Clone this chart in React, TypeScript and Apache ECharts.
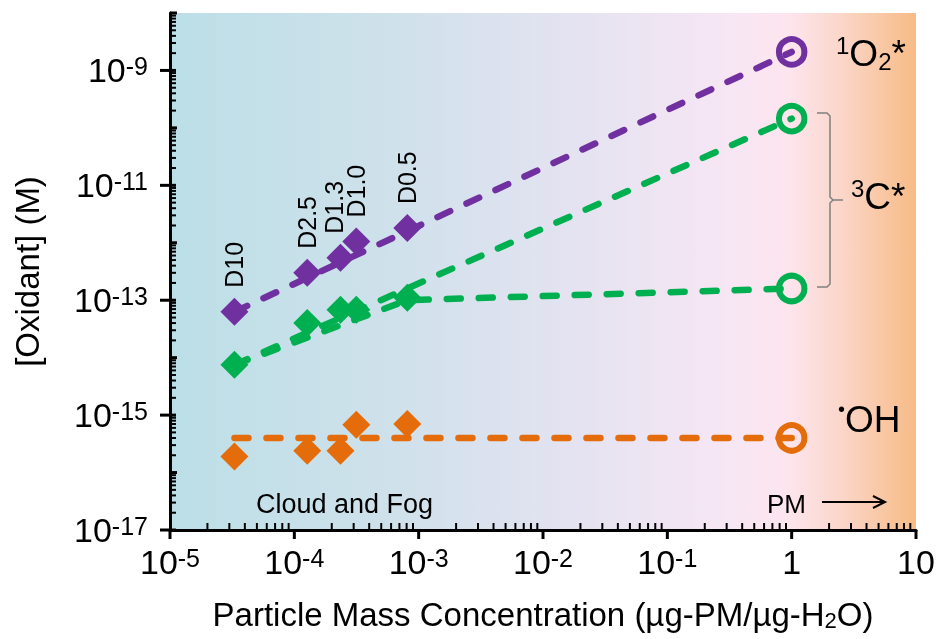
import React, { useEffect, useRef } from 'react';
import * as echarts from 'echarts';

// ---- data ----
const dLabels = ['D10', 'D2.5', 'D1.3', 'D1.0', 'D0.5'];
const dConc = [3.3e-5, 1.27e-4, 2.35e-4, 3.15e-4, 8.1e-4];
const o2Vals = [6.3e-14, 3.0e-13, 5.5e-13, 1.05e-12, 1.8e-12];
const c3Vals = [7.5e-15, 4.0e-14, 6.8e-14, 6.8e-14, 1.1e-13];
const ohVals = [1.9e-16, 2.4e-16, 2.4e-16, 6.8e-16, 7.0e-16];
const pmConc = 1;
const o2PM = 2.1e-9;
const c3PMHigh = 1.45e-10;
const c3PMLow = 1.6e-13;
const c3LowBend = 1.0e-13;
const ohPM = 4.0e-16;
const ohFit = 4.0e-16;
const xExps = [-5, -4, -3, -2, -1, 0, 1];
const yExps = [-17, -16, -15, -14, -13, -12, -11, -10, -9, -8];

const PURPLE = '#7030A0';
const GREEN = '#00B050';
const ORANGE = '#E46C0A';
const FONT = 'Liberation Sans, Arial, sans-serif';

const xMin = Math.pow(10, xExps[0]);
const xMax = Math.pow(10, xExps[xExps.length - 1]);
const yMin = Math.pow(10, yExps[0]);
const yMax = Math.pow(10, yExps[yExps.length - 1]);

const dashStyle = (color: string) => ({
  color,
  width: 6.5,
  type: [14, 18] as any,
  cap: 'round' as const,
  opacity: 1,
});

function expLabel(v: number, hideEven: boolean) {
  const n = Math.round(Math.log10(v));
  if (hideEven && n % 2 === 0) return '';
  if (n === 0) return '1';
  if (n === 1) return '10';
  return '{b|10}{s|' + n + '}';
}

const labelRich = {
  b: { fontSize: 34, fontFamily: FONT, color: '#000', verticalAlign: 'bottom' as const },
  s: { fontSize: 25, fontFamily: FONT, color: '#000', verticalAlign: 'top' as const },
};

function buildOption() {
  const endCircle = (color: string, y: number) => ({
    type: 'scatter',
    symbol: 'circle',
    symbolSize: 25.5,
    itemStyle: { color: 'rgba(0,0,0,0)', borderColor: color, borderWidth: 6, opacity: 1 },
    data: [[pmConc, y]],
    z: 4,
    silent: true,
  });
  const lineSeries = (color: string, data: number[][]) => ({
    type: 'line',
    data,
    showSymbol: false,
    symbol: 'none',
    lineStyle: dashStyle(color),
    z: 2,
    silent: true,
  });
  const diamonds = (color: string, vals: number[], withLabels: boolean) => ({
    type: 'scatter',
    symbol: 'diamond',
    symbolSize: 28,
    itemStyle: { color, opacity: 1 },
    data: vals.map((v, i) =>
      withLabels && i === 2
        ? { value: [dConc[i], v], label: { offset: [0, -6] } }
        : [dConc[i], v]
    ),
    z: 3,
    silent: true,
    label: withLabels
      ? {
          show: true,
          position: 'top',
          distance: 10,
          rotate: 90,
          align: 'left',
          verticalAlign: 'middle',
          fontSize: 25,
          fontFamily: FONT,
          color: '#000',
          formatter: (p: any) => dLabels[p.dataIndex],
        }
      : { show: false },
  });

  const ticks = {
    type: 'custom',
    silent: true,
    clip: false,
    z: 10,
    data: [[1, 1e-12]],
    renderItem: (params: any, api: any) => {
      const children: any[] = [];
      const origin = api.coord([xMin, yMin]);
      const ax = origin[0];
      const ay = origin[1];
      xExps.forEach((n) => {
        const px = api.coord([Math.pow(10, n), yMin])[0];
        children.push({ type: 'line', shape: { x1: px, y1: ay, x2: px, y2: ay + 9 }, style: { stroke: '#000', lineWidth: 3 } });
        if (n < xExps[xExps.length - 1]) {
          for (let m = 2; m <= 9; m++) {
            const mx = api.coord([m * Math.pow(10, n), yMin])[0];
            children.push({ type: 'line', shape: { x1: mx, y1: ay, x2: mx, y2: ay - 7 }, style: { stroke: '#000', lineWidth: 2 } });
          }
        }
      });
      yExps.forEach((n) => {
        const py = api.coord([xMin, Math.pow(10, n)])[1];
        if (n % 2 !== 0) {
          children.push({ type: 'line', shape: { x1: ax - 10, y1: py, x2: ax + 6, y2: py }, style: { stroke: '#000', lineWidth: 3 } });
        } else {
          children.push({ type: 'line', shape: { x1: ax, y1: py, x2: ax + 7, y2: py }, style: { stroke: '#000', lineWidth: 3 } });
        }
        if (n < yExps[yExps.length - 1]) {
          for (let m = 2; m <= 9; m++) {
            const my = api.coord([xMin, m * Math.pow(10, n)])[1];
            children.push({ type: 'line', shape: { x1: ax, y1: my, x2: ax + 6, y2: my }, style: { stroke: '#000', lineWidth: 2 } });
          }
        }
      });
      return { type: 'group', children };
    },
  };

  const speciesRich = {
    b: { fontSize: 37, fontFamily: FONT, color: '#000', lineHeight: 40 },
    sup: { fontSize: 24, fontFamily: FONT, color: '#000', verticalAlign: 'top' },
    sub: { fontSize: 24, fontFamily: FONT, color: '#000', verticalAlign: 'bottom' },
    dot: { fontSize: 20, fontFamily: FONT, color: '#000', verticalAlign: 'top' },
  };

  return {
    animation: false,
    grid: {
      left: 170,
      top: 13,
      right: 22,
      bottom: 109,
      show: true,
      borderWidth: 0,
      backgroundColor: new echarts.graphic.LinearGradient(0, 0, 1, 0, [
        { offset: 0, color: '#bcdfe7' },
        { offset: 0.3, color: '#cfe1eb' },
        { offset: 0.55, color: '#e5e3f1' },
        { offset: 0.75, color: '#f7e6f4' },
        { offset: 0.83, color: '#fde5ee' },
        { offset: 0.9, color: '#fbd6c9' },
        { offset: 1, color: '#f7bb86' },
      ]),
    },
    xAxis: {
      type: 'log',
      logBase: 10,
      min: xMin,
      max: xMax,
      axisLine: { show: true, lineStyle: { color: '#000', width: 3 } },
      axisTick: { show: false },
      splitLine: { show: false },
      axisLabel: {
        margin: 15,
        fontSize: 34,
        fontFamily: FONT,
        color: '#000',
        formatter: (v: number) => expLabel(v, false),
        rich: labelRich,
      },
      name: 'Particle Mass Concentration (µg-PM/µg-H{sub|2}O)',
      nameLocation: 'middle',
      nameGap: 68,
      nameTextStyle: {
        fontSize: 33,
        fontFamily: FONT,
        color: '#000',
        rich: { sub: { fontSize: 22, fontFamily: FONT, color: '#000', verticalAlign: 'bottom' } },
      },
    },
    yAxis: {
      type: 'log',
      logBase: 10,
      min: yMin,
      max: yMax,
      axisLine: { show: true, lineStyle: { color: '#000', width: 3 } },
      axisTick: { show: false },
      splitLine: { show: false },
      axisLabel: {
        margin: 22,
        fontSize: 34,
        fontFamily: FONT,
        color: '#000',
        formatter: (v: number) => expLabel(v, true),
        rich: labelRich,
      },
      name: '[Oxidant] (M)',
      nameLocation: 'middle',
      nameGap: 126,
      nameRotate: 90,
      nameTextStyle: { fontSize: 33, fontFamily: FONT, color: '#000' },
    },
    graphic: [
      { type: 'text', x: 836, y: 53, z: 20, style: { text: '{sup|1}{b|O}{sub|2}{b|*}', rich: speciesRich, verticalAlign: 'middle', fill: '#000' } },
      { type: 'text', x: 851, y: 196, z: 20, style: { text: '{sup|3}{b|C*}', rich: speciesRich, verticalAlign: 'middle', fill: '#000' } },
      { type: 'text', x: 838, y: 419, z: 20, style: { text: '{dot|•}{b|OH}', rich: speciesRich, verticalAlign: 'middle', fill: '#000' } },
      { type: 'text', x: 256, y: 504, z: 20, style: { text: 'Cloud and Fog', font: '27px ' + FONT, fill: '#000', verticalAlign: 'middle' } },
      { type: 'text', x: 767, y: 504, z: 20, style: { text: 'PM', font: '26px ' + FONT, fill: '#000', verticalAlign: 'middle' } },
      { type: 'line', z: 20, shape: { x1: 822, y1: 502, x2: 884, y2: 502 }, style: { stroke: '#000', lineWidth: 2 } },
      { type: 'polyline', z: 20, shape: { points: [[873, 496], [885, 502], [873, 508]] }, style: { stroke: '#000', lineWidth: 2, fill: null } },
      { type: 'polyline', z: 20, shape: { points: [[817, 113], [827, 113], [830, 116], [830, 197], [833, 200], [843, 200]] }, style: { stroke: '#808080', lineWidth: 1.5, fill: null } },
      { type: 'polyline', z: 20, shape: { points: [[817, 287], [827, 287], [830, 284], [830, 203], [833, 200]] }, style: { stroke: '#808080', lineWidth: 1.5, fill: null } },
    ],
    series: [
      lineSeries(PURPLE, [[dConc[0], o2Vals[0]], [pmConc, o2PM]]),
      lineSeries(GREEN, [[dConc[0], c3Vals[0]], [pmConc, c3PMHigh]]),
      lineSeries(GREEN, [[dConc[0], c3Vals[0]], [dConc[4], c3LowBend], [pmConc, c3PMLow]]),
      lineSeries(ORANGE, [[dConc[0], ohFit], [pmConc, ohPM]]),
      diamonds(PURPLE, o2Vals, true),
      diamonds(GREEN, c3Vals, false),
      diamonds(ORANGE, ohVals, false),
      endCircle(PURPLE, o2PM),
      endCircle(GREEN, c3PMHigh),
      endCircle(GREEN, c3PMLow),
      endCircle(ORANGE, ohPM),
      ticks,
    ],
  };
}

export default function App() {
  const ref = useRef<HTMLDivElement>(null);
  useEffect(() => {
    const chart = echarts.init(ref.current!, null, { renderer: 'svg' });
    chart.setOption(buildOption() as any);
    return () => chart.dispose();
  }, []);
  return <div ref={ref} style={{ position: 'fixed', left: 0, top: 0, width: 938, height: 639 }} />;
}
